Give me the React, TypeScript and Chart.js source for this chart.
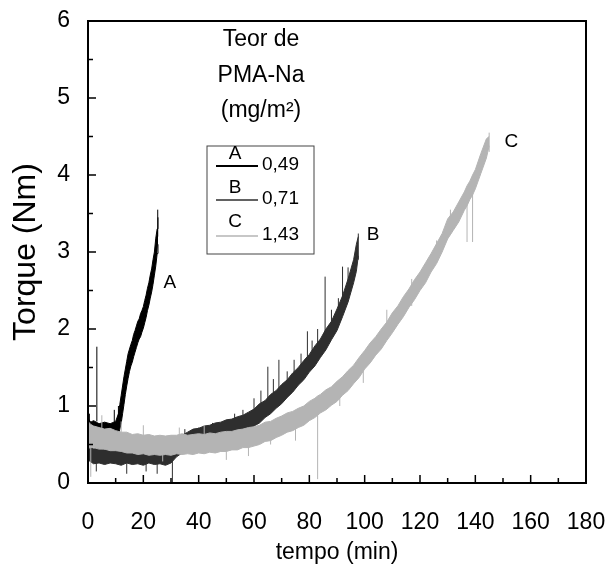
import React, { useEffect, useRef } from "react";
import { Chart, registerables } from "chart.js";

Chart.register(...registerables);

// ---- Data (noisy traces as low/high envelopes + spikes) ----
// Series A (0,49 mg/m²)
const timeA = [0, 1, 2, 4, 6, 8, 10, 11, 11.5, 12, 12.5, 13, 13.5, 14, 14.5, 15, 15.5, 16, 16.5, 17, 17.5, 18, 18.5, 19, 19.5, 20, 20.5, 21, 21.5, 22, 22.5, 23, 23.5, 24, 24.5, 25, 25.3];
const highA = [0.84, 0.79, 0.81, 0.77, 0.79, 0.77, 0.8, 0.9, 1.02, 1.14, 1.26, 1.38, 1.48, 1.58, 1.68, 1.74, 1.8, 1.85, 1.93, 1.98, 2.04, 2.1, 2.13, 2.2, 2.24, 2.29, 2.37, 2.44, 2.53, 2.6, 2.7, 2.78, 2.9, 3.0, 3.18, 3.3, 3.45];
const lowA = [0.68, 0.66, 0.66, 0.64, 0.63, 0.64, 0.62, 0.63, 0.7, 0.78, 0.9, 1.02, 1.15, 1.26, 1.36, 1.45, 1.52, 1.57, 1.64, 1.7, 1.76, 1.82, 1.87, 1.9, 1.96, 2.01, 2.08, 2.15, 2.24, 2.31, 2.4, 2.48, 2.58, 2.7, 2.82, 2.98, 3.1];
const spikeTimeA = [0.5, 3.2, 9.5, 11, 25.2];
const spikeFromA = [0.7, 0.8, 0.7, 0.6, 3.2];
const spikeToA = [0.9, 1.77, 0.95, 1.0, 3.55];

// Series B (0,71 mg/m²)
const timeB = [0, 2, 4, 6, 8, 10, 12, 14, 16, 18, 20, 22, 24, 26, 28, 30, 32, 34, 36, 38, 40, 42, 44, 46, 48, 50, 52, 54, 56, 58, 60, 62, 64, 66, 68, 70, 72, 74, 76, 78, 80, 82, 84, 86, 88, 90, 92, 94, 96, 97, 97.7];
const highB = [0.52, 0.44, 0.46, 0.43, 0.46, 0.44, 0.46, 0.43, 0.46, 0.43, 0.45, 0.46, 0.43, 0.45, 0.43, 0.46, 0.56, 0.62, 0.66, 0.7, 0.71, 0.74, 0.75, 0.78, 0.79, 0.82, 0.83, 0.86, 0.88, 0.92, 0.96, 1.03, 1.07, 1.15, 1.2, 1.28, 1.34, 1.43, 1.5, 1.59, 1.67, 1.78, 1.87, 2.0, 2.1, 2.26, 2.43, 2.65, 2.9, 3.1, 3.2];
const lowB = [0.3, 0.25, 0.26, 0.24, 0.26, 0.25, 0.23, 0.26, 0.24, 0.25, 0.23, 0.26, 0.24, 0.25, 0.23, 0.26, 0.34, 0.39, 0.44, 0.46, 0.49, 0.5, 0.53, 0.54, 0.57, 0.58, 0.61, 0.62, 0.66, 0.68, 0.74, 0.78, 0.85, 0.9, 0.97, 1.03, 1.11, 1.18, 1.27, 1.34, 1.44, 1.52, 1.63, 1.73, 1.86, 1.98, 2.16, 2.35, 2.6, 2.75, 2.95];
const spikeTimeB = [3, 7, 11, 14, 18, 21, 25, 30.5, 35, 40, 45, 50, 53, 56, 60, 62.5, 65, 67, 69, 72, 74.5, 77, 79.3, 81, 83, 85.7, 88, 90.5, 92, 94, 97.7];
const spikeFromB = [0.15, 0.4, 0.4, 0.12, 0.4, 0.15, 0.12, 0.0, 0.5, 0.55, 0.6, 0.65, 0.7, 0.8, 0.9, 0.9, 1.0, 1.1, 1.1, 1.25, 1.35, 1.45, 1.5, 1.6, 1.7, 1.8, 2.0, 2.1, 2.3, 2.5, 2.9];
const spikeToB = [0.3, 0.55, 0.52, 0.26, 0.52, 0.28, 0.25, 0.3, 0.7, 0.72, 0.78, 0.82, 0.9, 0.95, 1.1, 1.2, 1.51, 1.35, 1.6, 1.45, 1.6, 1.68, 1.97, 1.85, 2.0, 2.68, 2.25, 2.4, 2.81, 2.8, 3.24];

// Series C (1,43 mg/m²)
const timeC = [0, 1, 2, 4, 6, 8, 10, 12, 14, 16, 18, 20, 22, 24, 26, 28, 30, 32, 34, 36, 38, 40, 42, 44, 46, 48, 50, 52, 54, 56, 58, 60, 62, 64, 66, 68, 70, 72, 74, 76, 78, 80, 82, 83, 84, 86, 88, 90, 92, 94, 96, 98, 100, 102, 104, 106, 108, 110, 112, 114, 116, 118, 120, 122, 124, 126, 128, 130, 132, 134, 136, 137, 138, 139, 140, 142, 144, 145];
const highC = [0.8, 0.76, 0.74, 0.72, 0.7, 0.71, 0.68, 0.66, 0.66, 0.63, 0.64, 0.62, 0.63, 0.61, 0.62, 0.61, 0.62, 0.62, 0.64, 0.62, 0.63, 0.64, 0.63, 0.65, 0.64, 0.66, 0.67, 0.67, 0.69, 0.7, 0.72, 0.73, 0.75, 0.79, 0.8, 0.84, 0.87, 0.91, 0.93, 0.97, 1.0, 1.06, 1.1, 1.13, 1.15, 1.21, 1.25, 1.32, 1.38, 1.46, 1.53, 1.63, 1.72, 1.82, 1.9, 2.0, 2.09, 2.21, 2.3, 2.42, 2.52, 2.64, 2.74, 2.86, 2.98, 3.11, 3.24, 3.43, 3.52, 3.65, 3.78, 3.86, 3.92, 4.0, 4.07, 4.28, 4.47, 4.5];
const lowC = [0.45, 0.46, 0.46, 0.44, 0.44, 0.42, 0.42, 0.41, 0.39, 0.39, 0.37, 0.38, 0.36, 0.37, 0.36, 0.37, 0.36, 0.38, 0.37, 0.38, 0.37, 0.39, 0.38, 0.4, 0.39, 0.41, 0.41, 0.43, 0.43, 0.46, 0.46, 0.48, 0.5, 0.54, 0.55, 0.59, 0.62, 0.66, 0.68, 0.72, 0.75, 0.81, 0.85, 0.88, 0.91, 0.95, 1.01, 1.06, 1.14, 1.2, 1.29, 1.37, 1.48, 1.56, 1.66, 1.74, 1.85, 1.95, 2.06, 2.16, 2.28, 2.38, 2.5, 2.6, 2.74, 2.85, 3.0, 3.17, 3.28, 3.39, 3.54, 3.6, 3.68, 3.74, 3.82, 4.02, 4.22, 4.38];
const spikeTimeC = [1, 5, 12, 20, 27, 33, 42, 50, 58, 66, 75, 83, 91, 99.5, 108, 117, 126, 131, 137, 139, 145];
const spikeFromC = [0.08, 0.6, 0.5, 0.5, 0.28, 0.5, 0.55, 0.3, 0.35, 0.5, 0.55, 0.05, 1.0, 1.3, 2.0, 2.3, 2.9, 3.3, 3.13, 3.13, 4.3];
const spikeToC = [0.5, 0.88, 0.8, 0.75, 0.45, 0.72, 0.75, 0.45, 0.5, 0.65, 0.75, 0.9, 1.15, 1.5, 2.25, 2.65, 3.15, 3.55, 3.7, 3.8, 4.55];

const xMajorTicks = [20, 40, 60, 80, 100, 120, 140, 160];
const xMinorTicks = [10, 30, 50, 70, 90, 110, 130, 150, 170];
const yMajorTicks = [1, 2, 3, 4, 5];
const yMinorTicks = [0.5, 1.5, 2.5, 3.5, 4.5, 5.5];

const seriesNames = ["A", "B", "C"];
const seriesContent = ["0,49", "0,71", "1,43"];
const seriesColors = ["#000000", "#2e2e2e", "#b4b4b4"];
const labelPos = [[29.6, 2.6], [103, 3.22], [153, 4.43]];
const titleLines = ["Teor de", "PMA-Na", "(mg/m²)"];

const FONT = "'Liberation Sans', Arial, Helvetica, sans-serif";

function toXY(t: number[], v: number[]) {
  return t.map((x, i) => ({ x, y: v[i] }));
}
function spikes(t: number[], a: number[], b: number[]) {
  const out: { x: number; y: number }[] = [];
  t.forEach((x, i) => {
    out.push({ x, y: a[i] }, { x, y: b[i] }, { x, y: NaN });
  });
  return out;
}

const decorPlugin = {
  id: "decor",
  afterDraw(chart: any) {
    const { ctx, chartArea } = chart;
    const xs = chart.scales.x;
    const ys = chart.scales.y;
    const L = chartArea.left, T = chartArea.top, R = chartArea.right, B = chartArea.bottom;
    ctx.save();
    ctx.strokeStyle = "#000";
    ctx.lineWidth = 2;
    ctx.strokeRect(L, T, R - L, B - T);
    ctx.lineWidth = 1.5;
    ctx.beginPath();
    xMajorTicks.forEach((v) => { const p = xs.getPixelForValue(v); ctx.moveTo(p, B); ctx.lineTo(p, B - 8); });
    xMinorTicks.forEach((v) => { const p = xs.getPixelForValue(v); ctx.moveTo(p, B); ctx.lineTo(p, B - 5); });
    yMajorTicks.forEach((v) => { const p = ys.getPixelForValue(v); ctx.moveTo(L, p); ctx.lineTo(L + 8, p); });
    yMinorTicks.forEach((v) => { const p = ys.getPixelForValue(v); ctx.moveTo(L, p); ctx.lineTo(L + 5, p); });
    ctx.stroke();

    ctx.fillStyle = "#000";
    ctx.font = `19px ${FONT}`;
    ctx.textAlign = "center";
    ctx.textBaseline = "middle";
    seriesNames.forEach((n, i) => {
      ctx.fillText(n, xs.getPixelForValue(labelPos[i][0]), ys.getPixelForValue(labelPos[i][1]));
    });

    ctx.font = `23px ${FONT}`;
    titleLines.forEach((t, i) => {
      ctx.fillText(t, L + 173, T + 19 + i * 35.5);
    });

    const bx = L + 119, by = T + 125, bw = 107, bh = 108;
    ctx.lineWidth = 1;
    ctx.strokeStyle = "#444";
    ctx.strokeRect(bx, by, bw, bh);
    seriesNames.forEach((n, i) => {
      const rowTop = by + i * 34;
      ctx.fillStyle = "#000";
      ctx.font = `19px ${FONT}`;
      ctx.textAlign = "center";
      ctx.fillText(n, bx + 28, rowTop + 8);
      ctx.beginPath();
      ctx.strokeStyle = seriesColors[i];
      ctx.lineWidth = i === 0 ? 2 : 1.3;
      const ly = rowTop + 20 + (i === 2 ? 2 : 0);
      ctx.moveTo(bx + 9, ly);
      ctx.lineTo(bx + 51, ly);
      ctx.stroke();
      ctx.textAlign = "left";
      ctx.fillText(seriesContent[i], bx + 55, ly - 1);
    });
    ctx.restore();
  },
};

export default function App() {
  const ref = useRef<HTMLCanvasElement>(null);
  useEffect(() => {
    if (!ref.current) return;
    const times = [timeA, timeB, timeC];
    const highs = [highA, highB, highC];
    const lows = [lowA, lowB, lowC];
    const spT = [spikeTimeA, spikeTimeB, spikeTimeC];
    const spF = [spikeFromA, spikeFromB, spikeFromC];
    const spE = [spikeToA, spikeToB, spikeToC];
    const datasets: any[] = [];
    seriesNames.forEach((n, i) => {
      const order = 2 - i;
      datasets.push({
        label: n + " low",
        data: toXY(times[i], lows[i]),
        borderColor: seriesColors[i],
        borderWidth: 1,
        pointRadius: 0,
        tension: 0,
        fill: false,
        order,
      });
      datasets.push({
        label: n,
        data: toXY(times[i], highs[i]),
        borderColor: seriesColors[i],
        backgroundColor: seriesColors[i],
        borderWidth: 1,
        pointRadius: 0,
        tension: 0,
        fill: "-1",
        order,
      });
      datasets.push({
        label: n + " spikes",
        data: spikes(spT[i], spF[i], spE[i]),
        borderColor: seriesColors[i],
        borderWidth: 1,
        pointRadius: 0,
        tension: 0,
        fill: false,
        spanGaps: false,
        order,
      });
    });
    const chart = new Chart(ref.current, {
      type: "line",
      data: { datasets },
      options: {
        animation: false,
        responsive: false,
        maintainAspectRatio: false,
        devicePixelRatio: 1,
        layout: { padding: { top: 21, right: 26, left: 0, bottom: 0 } },
        plugins: { legend: { display: false }, tooltip: { enabled: false } },
        scales: {
          x: {
            type: "linear",
            min: 0,
            max: 180,
            ticks: { stepSize: 20, color: "#000", font: { family: FONT, size: 23 }, padding: 26, maxRotation: 0 },
            grid: { display: false, drawTicks: false },
            border: { display: false },
            title: { display: true, text: "tempo (min)", color: "#000", font: { family: FONT, size: 23 }, padding: { top: 0, bottom: 4 } },
            afterFit: (s: any) => { s.height = 87; s.paddingLeft = 0; s.paddingRight = 0; },
          },
          y: {
            min: 0,
            max: 6,
            ticks: { stepSize: 1, color: "#000", font: { family: FONT, size: 23 }, padding: 18 },
            grid: { display: false, drawTicks: false },
            border: { display: false },
            title: { display: true, text: "Torque (Nm)", color: "#000", font: { family: FONT, size: 32 }, padding: { top: 7, bottom: 0 } },
            afterFit: (s: any) => { s.width = 88; s.paddingTop = 0; s.paddingBottom = 0; },
          },
        },
      },
      plugins: [decorPlugin],
    });
    return () => chart.destroy();
  }, []);
  return (
    <div style={{ position: "fixed", left: 0, top: 0, width: 612, height: 570, background: "#fff" }}>
      <canvas ref={ref} width={612} height={570} style={{ width: 612, height: 570 }} />
    </div>
  );
}
